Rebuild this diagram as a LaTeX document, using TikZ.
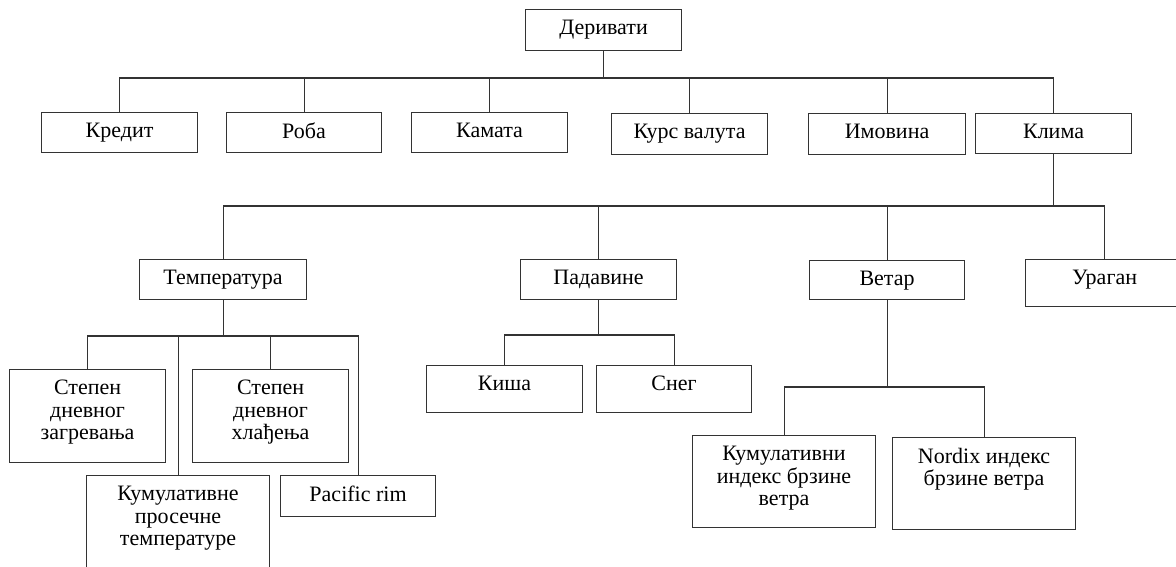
\documentclass[tikz,border=0pt]{standalone}
\usepackage{fontspec}
\setmainfont{Liberation Serif}
\begin{document}
\begin{tikzpicture}[
      x=1pt, y=-1pt,
      box/.style={draw=black!80, line width=1.1pt, anchor=north west, inner sep=0pt},
      lbl/.style={anchor=north, yshift=-11pt, inner sep=0pt, align=center,
                  font=\fontsize{22}{22.5}\selectfont},
      conn/.style={draw=black!80, line width=1.1pt}
    ]
    \useasboundingbox (0,0) rectangle (1176,567);
    % Root.
    \node[box, minimum width=156, minimum height=41, label={[lbl]90:Деривати}] (der) at (525,9) {};
    % First level.
    \node[box, minimum width=156, minimum height=40, label={[lbl]90:Кредит}] (kred) at (41,112) {};
    \node[box, minimum width=155, minimum height=40, label={[lbl]90:Роба}] (roba) at (226,112) {};
    \node[box, minimum width=156, minimum height=40, label={[lbl]90:Камата}] (kam) at (411,112) {};
    \node[box, minimum width=156, minimum height=41, label={[lbl]90:Курс валута}] (kurs) at (611,113) {};
    \node[box, minimum width=157, minimum height=41, label={[lbl]90:Имовина}] (imov) at (808,113) {};
    \node[box, minimum width=156, minimum height=40, label={[lbl]90:Клима}] (klima) at (975,113) {};
    % Second level.
    \node[box, minimum width=167, minimum height=40, label={[lbl]90:Температура}] (temp) at (139,259) {};
    \node[box, minimum width=156, minimum height=40, label={[lbl]90:Падавине}] (pad) at (520,259) {};
    \node[box, minimum width=155, minimum height=39, label={[lbl]90:Ветар}] (vet) at (809,260) {};
    \node[box, minimum width=158, minimum height=47, label={[lbl]90:Ураган}] (urag) at (1025,259) {};
    % Under temperature.
    \node[box, minimum width=156, minimum height=93, label={[lbl]90:Степен\\дневног\\загревања}] (zagr) at (9,369) {};
    \node[box, minimum width=156, minimum height=93, label={[lbl]90:Степен\\дневног\\хлађења}] (hlad) at (192,369) {};
    \node[box, minimum width=183, minimum height=100, label={[lbl]90:Кумулативне\\просечне\\температуре}] (kumt) at (86,475) {};
    \node[box, minimum width=155, minimum height=41, label={[lbl]90:Pacific rim}] (pac) at (280,475) {};
    % Under precipitation.
    \node[box, minimum width=156, minimum height=47, label={[lbl]90:Киша}] (kisa) at (426,365) {};
    \node[box, minimum width=155, minimum height=47, label={[lbl]90:Снег}] (sneg) at (596,365) {};
    % Under wind.
    \node[box, minimum width=183, minimum height=92, label={[lbl]90:Кумулативни\\индекс брзине\\ветра}] (kumv) at (692,435) {};
    \node[box, minimum width=183, minimum height=92, label={[lbl]90:Nordix индекс\\брзине ветра}] (nord) at (892,437) {};
    % Bus lines.
    \coordinate (bus1) at (0,78);
    \coordinate (bus2) at (0,206);
    \coordinate (bus3) at (0,336);
    \coordinate (bus4) at (0,335);
    \coordinate (bus5) at (0,387);
    % Connectors.
    \draw[conn] (der.south) -- (der.south |- bus1);
    \foreach \c in {kred,roba,kam,kurs,imov,klima}
      \draw[conn] (der.south |- bus1) -| (\c.north);
    \draw[conn] (klima.south) -- (klima.south |- bus2);
    \foreach \c in {temp,pad,vet,urag}
      \draw[conn] (klima.south |- bus2) -| (\c.north);
    \draw[conn] (temp.south) -- (temp.south |- bus3);
    \foreach \c in {zagr,hlad,kumt,pac}
      \draw[conn] (temp.south |- bus3) -| (\c.north);
    \draw[conn] (pad.south) -- (pad.south |- bus4);
    \foreach \c in {kisa,sneg}
      \draw[conn] (pad.south |- bus4) -| (\c.north);
    \draw[conn] (vet.south) -- (vet.south |- bus5);
    \foreach \c in {kumv,nord}
      \draw[conn] (vet.south |- bus5) -| (\c.north);
\end{tikzpicture}
\end{document}
